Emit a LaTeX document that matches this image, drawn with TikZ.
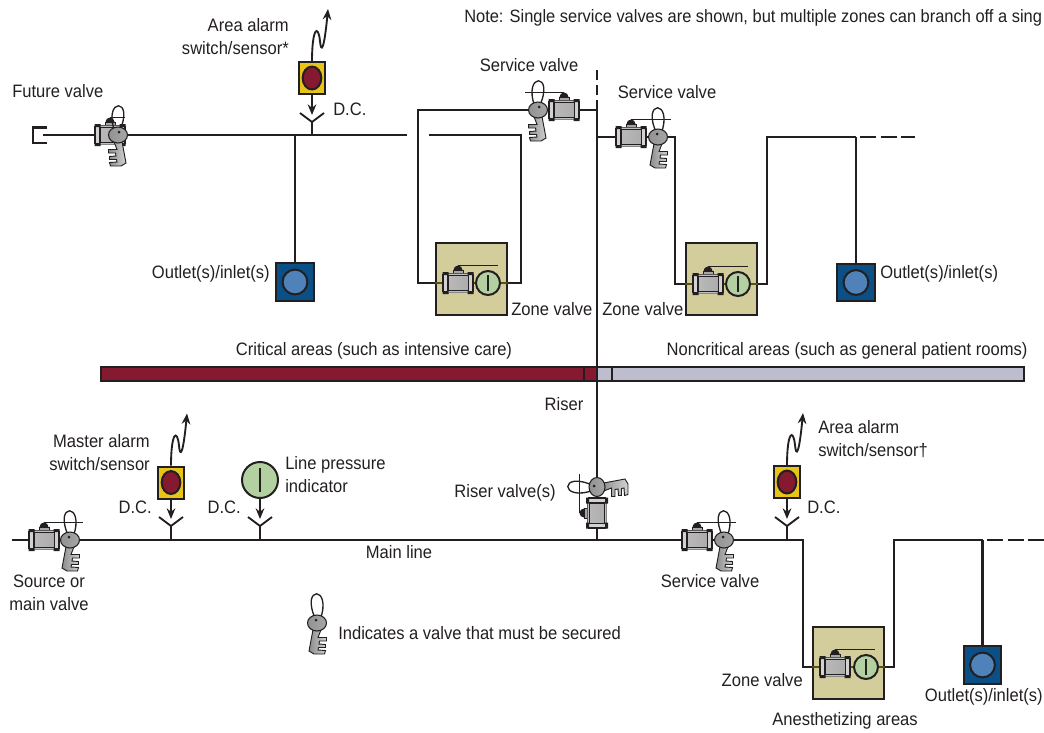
\documentclass[tikz,border=0pt]{standalone}
\usepackage{fontspec}
\setmainfont[FakeStretch=0.92]{Liberation Sans}
\usepackage{xcolor}
\definecolor{pipeblack}{RGB}{35, 31, 32}
\definecolor{alarmred}{RGB}{132, 25, 47}
\definecolor{alarmyellow}{RGB}{232, 195, 26}
\definecolor{outletblue}{RGB}{10, 79, 133}
\definecolor{outletlight}{RGB}{79, 130, 184}
\definecolor{gaugegreen}{RGB}{179, 209, 160}
\definecolor{zonetan}{RGB}{211, 204, 155}
\definecolor{bargrey}{RGB}{189, 189, 205}
\definecolor{pipeolive}{RGB}{91, 79, 16}
\usetikzlibrary{arrows.meta, positioning, calc}
\tikzset{
    pipe/.style={line width=1.7pt, pipeblack},
    pipedash/.style={pipe, dash pattern=on 12pt off 3.4pt},
    innerpipe/.style={line width=1.7pt, pipeolive},
    feed/.style={line width=1.4pt, pipeblack, -{Stealth[length=8pt, width=6.5pt]}},
    txt/.style={inner sep=0pt, text=pipeblack, align=center, font=\fontsize{13.5pt}{17.25pt}\selectfont},
    alarmbox/.style={draw=pipeblack, line width=1.5pt, fill=alarmyellow, minimum width=19pt, minimum height=24pt, inner sep=0pt,
        path picture={\draw[line width=1.5pt, draw=pipeblack, fill=alarmred] (path picture bounding box.center) ellipse [x radius=7pt, y radius=8.6pt];}},
    outletbox/.style={draw=pipeblack, line width=1.5pt, fill=outletblue, minimum size=28pt, inner sep=0pt,
        path picture={\draw[line width=1.5pt, draw=pipeblack, fill=outletlight] (path picture bounding box.center) circle (9.3pt);}},
    gauge/.style={circle, draw=pipeblack, line width=1.5pt, fill=gaugegreen, minimum size=#1, inner sep=0pt,
        path picture={\draw[line width=1.4pt, pipeblack, shorten <=0.17*#1, shorten >=0.17*#1] (path picture bounding box.north) -- (path picture bounding box.south);}},
    zonebox/.style={draw=pipeblack, line width=1.5pt, fill=zonetan, minimum width=53pt, minimum height=54pt, inner sep=0pt},
    pics/valve/.style={code={
        \draw[line width=1pt, pipeblack] (0,-17.5) -- (#1,-17.5);
        \fill[pipeblack] (-4.5,-13) arc (180:360:4.5) -- cycle;
        \fill[gray!70, draw=pipeblack, line width=0.6pt] (-5,-13) rectangle (5,-9);
        \shade[left color=gray!55, middle color=white, right color=gray!65, draw=pipeblack, line width=0.7pt] (-10,-9.5) rectangle (10,9.5);
        \fill[gray!50] (-10,-9.5) rectangle (10,-7.5) (-10,9.5) rectangle (10,7.5);
        \draw[line width=0.6pt, pipeblack] (-10,-7.5) -- (10,-7.5) (-10,7.5) -- (10,7.5);
        \draw[fill=gray!35, draw=pipeblack, line width=0.9pt] (-15,-8.5) rectangle (-10.5,8.5) (15,-8.5) rectangle (10.5,8.5);
        \fill[pipeblack] (-15.5,-11) rectangle (-9.5,-8) (-15.5,11) rectangle (-9.5,8) (15.5,-11) rectangle (9.5,-8) (15.5,11) rectangle (9.5,8);
    }},
    pics/key/.style={code={
        \draw[line width=1pt, pipeblack] (-1,-3) .. controls (-18,-38) and (16,-38) .. (3,-3);
        \shade[left color=gray!90, right color=gray!35, draw=pipeblack, line width=0.7pt] (5,4) -- (1,14.5) -- (9.5,14.5) -- (9.5,18) -- (2.5,18) -- (2,21) -- (8.5,21.5) -- (8.5,24.5) -- (1.5,24.5) -- (1,27) -- (8.5,27.5) -- (7.5,31) -- (-3,31) -- (-8,28) -- (-3.5,4) -- cycle;
        \shade[left color=gray!85, middle color=gray!25, right color=gray!70, draw=pipeblack, line width=0.8pt] (0,0) ellipse [x radius=9.5, y radius=8];
        \fill[pipeblack] (-1,-3) circle (1.5);
    }},
    pics/wave/.style={code={
        \draw[feed] (0,0) .. controls (0,-32) and (6,-38) .. (8,-20) .. controls (9,-8) and (12,-10) .. (16,-52);
    }},
    pics/dcfit/.style={code={
        \draw[line width=1.4pt, pipeblack] (-12,-9) -- (0,0) -- (12,-9);
    }},
}
\begin{document}
\begin{tikzpicture}[x=0.75pt, y=-0.75pt]
    \useasboundingbox (0,0) rectangle (1044,732);

    % top note
    \node[txt, anchor=west, font=\fontsize{13.4pt}{17.25pt}\selectfont] (note) at (464,18) {Note: Single service valves are shown, but multiple zones can branch off a sing};

    % boxes first, pipes run up to them
    \node[zonebox] (zone1) at (471.5,278.5) {};
    \node[zonebox] (zone2) at (721.5,278.5) {};
    \node[zonebox] (zone3) at (848.5,663) {};
    \node[outletbox] (outlet1) at (295,282) {};
    \node[outletbox] (outlet2) at (856,282.5) {};
    \node[outletbox] (outlet3) at (982.5,665) {};
    \node[alarmbox] (alarm1) at (312,78) {};
    \node[alarmbox] (alarm2) at (171,482.5) {};
    \node[alarmbox] (alarm3) at (787,482) {};
    \node[gauge=27pt] (gaugeline) at (260,480) {};

    % valve centres and key heads
    \coordinate (vfut) at (110,135);
    \coordinate (kfut) at (118,135);
    \coordinate (vsv1) at (564,110);
    \coordinate (ksv1) at (538,110);
    \coordinate (vsv2) at (631,137);
    \coordinate (ksv2) at (658,137);
    \coordinate (vsrc) at (44,540);
    \coordinate (ksrc) at (70,540);
    \coordinate (vsv3) at (697,540);
    \coordinate (ksv3) at (724,540);
    \coordinate (vris) at (597,513);
    \coordinate (kris) at (597,487);
    \coordinate (vz1) at (458,283);
    \coordinate (vz2) at (708,284);
    \coordinate (vz3) at (835,667);
    \coordinate (kleg) at (317,623);

    % D.C. fittings and pipe corners
    \coordinate (dc1) at (312,122);
    \coordinate (dc2) at (171,526);
    \coordinate (dc3) at (260,526);
    \coordinate (dc4) at (787,526);
    \coordinate (capend) at (43,135);
    \coordinate (topgap) at (407,135);
    \coordinate (topgapb) at (429,135);
    \coordinate (cornera) at (418,283);
    \coordinate (cornerb) at (521,135);
    \coordinate (cornerc) at (675,284);
    \coordinate (cornerd) at (767,137);
    \coordinate (cornere) at (803,667);
    \coordinate (cornerf) at (894,540);
    \coordinate (tee1) at (295,135);
    \coordinate (tee2) at (856,137);
    \coordinate (tee3) at (982.5,540);
    \coordinate (dash2a) at (860,137);
    \coordinate (dash2b) at (915,137);
    \coordinate (dash3a) at (987,540);
    \coordinate (dash3b) at (1044,540);
    \coordinate (mainstart) at (12,540);
    \coordinate (risertop) at (597,100);
    \coordinate (riserend) at (597,540);
    \coordinate (riserdasha) at (597,70);
    \coordinate (riserdashb) at (597,96);

    % cap
    \draw[pipe] (47,127.5) -- (33,127.5) -- (33,143) -- (47,143);

    % bar under the area titles
    \draw[pipe, line width=1.2pt, fill=alarmred] (101,367) rectangle (597,381);
    \draw[pipe, line width=1.2pt, fill=bargrey] (597,367) rectangle (1024,381);
    \draw[pipe, line width=1.2pt] (584,367) -- (584,381);
    \draw[pipe, line width=1.2pt] (612,367) -- (612,381);

    % pipes
    \draw[pipe] (capend) -- (topgap);
    \draw[pipe] (tee1) -- (outlet1.north);
    \draw[pipe] (ksv1) -| (cornera) -- (zone1.west |- cornera);
    \draw[pipe] (zone1.east |- vz1) -| (cornerb) -- (topgapb);
    \draw[pipe] (vsv1) -- (vsv1 -| risertop);
    \draw[pipe] (risertop) -- (riserend);
    \draw[pipe, dash pattern=on 7.5pt off 3.75pt] (riserdasha) -- (riserdashb);
    \draw[pipe] (vsv2 -| risertop) -- (ksv2) -| (cornerc) -- (zone2.west |- cornerc);
    \draw[pipe] (zone2.east |- vz2) -| (cornerd) -- (tee2);
    \draw[pipe] (tee2) -- (outlet2.north);
    \draw[pipedash] (dash2a) -- (dash2b);
    \draw[pipe] (mainstart) -- (ksv3) -| (cornere) -- (zone3.west |- cornere);
    \draw[pipe] (zone3.east |- vz3) -| (cornerf) -- (tee3);
    \draw[pipe] (tee3) -- (outlet3.north);
    \draw[pipedash] (dash3a) -- (dash3b);

    % pipe inside the zone boxes
    \draw[innerpipe] (zone1.west |- vz1) -- (zone1.east |- vz1);
    \draw[innerpipe] (zone2.west |- vz2) -- (zone2.east |- vz2);
    \draw[innerpipe] (zone3.west |- vz3) -- (zone3.east |- vz3);
    \node[gauge=18pt] (gauge1) at (488,283) {};
    \node[gauge=18pt] (gauge2) at (738,284) {};
    \node[gauge=18pt] (gauge3) at (866,667) {};

    % D.C. connections
    \draw[pipe, line width=1.4pt] (dc1) -- (dc1 |- tee1);
    \draw[pipe, line width=1.4pt] (dc2) -- (dc2 |- vsrc);
    \draw[pipe, line width=1.4pt] (dc3) -- (dc3 |- vsrc);
    \draw[pipe, line width=1.4pt] (dc4) -- (dc4 |- vsrc);
    \pic at (dc1) {dcfit};
    \pic at (dc2) {dcfit};
    \pic at (dc3) {dcfit};
    \pic at (dc4) {dcfit};
    \draw[feed] (alarm1.south) -- ($(dc1)+(0,-7)$);
    \draw[feed] (alarm2.south) -- ($(dc2)+(0,-7)$);
    \draw[feed] (gaugeline.south) -- ($(dc3)+(0,-7)$);
    \draw[feed] (alarm3.south) -- ($(dc4)+(0,-7)$);
    \pic at (alarm1.north) {wave};
    \pic at (alarm2.north) {wave};
    \pic at (alarm3.north) {wave};

    % valves and keys
    \pic at (vfut) {valve=15};
    \pic[xscale=-1] at (kfut) {key};
    \pic[xscale=-1] at (vsv1) {valve=39};
    \pic[xscale=-1] at (ksv1) {key};
    \pic at (vsv2) {valve=40};
    \pic at (ksv2) {key};
    \pic at (vsrc) {valve=39};
    \pic at (ksrc) {key};
    \pic at (vsv3) {valve=39};
    \pic at (ksv3) {key};
    \pic[rotate=90] at (vris) {valve=39};
    \pic[rotate=90, xscale=-1] at (kris) {key};
    \pic at (vz1) {valve=40};
    \pic at (vz2) {valve=40};
    \pic at (vz3) {valve=40};
    \pic at (kleg) {key};

    % labels
    \node[txt, anchor=west] (lfut) at (12,91) {Future valve};
    \node[txt, anchor=east, align=right] (lalarm1) at (289,37) {Area alarm\\switch/sensor*};
    \node[txt, anchor=west] (ldc1) at (333,109) {D.C.};
    \node[txt] (lsv1) at (529,65) {Service valve};
    \node[txt] (lsv2) at (667,92) {Service valve};
    \node[txt, anchor=east] (lout1) at (270,274) {Outlet(s)/inlet(s)};
    \node[txt, anchor=west] (lout2) at (880,274) {Outlet(s)/inlet(s)};
    \node[txt, anchor=west] (lzone1) at (511,309) {Zone valve};
    \node[txt, anchor=west] (lzone2) at (602,309) {Zone valve};
    \node[txt] (lcrit) at (374,351) {Critical areas (such as intensive care)};
    \node[txt] (lnon) at (847,351) {Noncritical areas (such as general patient rooms)};
    \node[txt] (lriser) at (564,404) {Riser};
    \node[txt, anchor=east, align=right] (lalarm2) at (150,452.5) {Master alarm\\switch/sensor};
    \node[txt, anchor=east] (ldc2) at (152,507) {D.C.};
    \node[txt, anchor=east] (ldc3) at (241,507) {D.C.};
    \node[txt, anchor=west, align=left] (lpress) at (285,474.5) {Line pressure\\indicator};
    \node[txt] (lrisv) at (505,493) {Riser valve(s)};
    \node[txt, anchor=west, align=left] (lalarm3) at (818,439.5) {Area alarm\\switch/sensor†};
    \node[txt, anchor=west] (ldc4) at (807,507) {D.C.};
    \node[txt] (lmain) at (399,552) {Main line};
    \node[txt] (lsrc) at (49,592.5) {Source or\\main valve};
    \node[txt] (lsv3) at (710,581) {Service valve};
    \node[txt, anchor=west] (lleg) at (338,633) {Indicates a valve that must be secured};
    \node[txt, anchor=east] (lzone3) at (803,680) {Zone valve};
    \node[txt, anchor=east] (lout3) at (1043,697) {Outlet(s)/inlet(s)};
    \node[txt] (lanes) at (845,721) {Anesthetizing areas};
\end{tikzpicture}
\end{document}
